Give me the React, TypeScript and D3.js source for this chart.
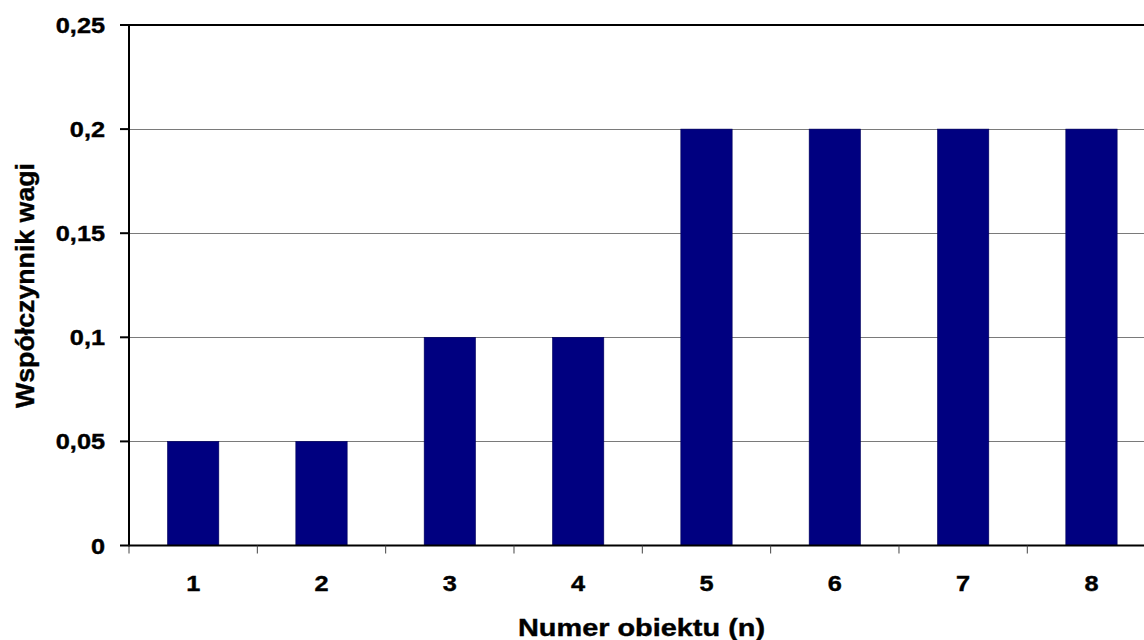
import React from "react";
import * as d3 from "d3";

const categories = ["1", "2", "3", "4", "5", "6", "7", "8"];
const values = [0.05, 0.05, 0.1, 0.1, 0.2, 0.2, 0.2, 0.2];
const yTicks = [0, 0.05, 0.1, 0.15, 0.2, 0.25];
const yTickLabels = ["0", "0,05", "0,1", "0,15", "0,2", "0,25"];
const xTitle = "Numer obiektu (n)";
const yTitle = "Współczynnik wagi";

const W = 1144;
const H = 640;
const left = 129;
const step = 128.33;
const right = left + step * categories.length;
const top = 25;
const bottom = 545.5;
const FONT = "'Liberation Sans', Arial, sans-serif";
const SX = 1.15;

export default function App() {
  const x = d3.scaleBand<string>().domain(categories).range([left, right]).paddingInner(0.6).paddingOuter(0.3);
  const y = d3.scaleLinear().domain([0, 0.25]).range([bottom, top]);
  const stepW = x.step();
  const txt = { fontFamily: FONT, fontWeight: "bold" as const, fill: "#000", stroke: "#000", strokeWidth: 0.4 };
  return (
    <svg width={W} height={H} style={{ position: "absolute", left: 0, top: 0, background: "#fff" }}>
      {yTicks.filter((t) => t > 0 && t < 0.25).map((t) => (
        <line key={"g" + t} x1={left} x2={W} y1={Math.round(y(t)) + 0.5} y2={Math.round(y(t)) + 0.5} stroke="#7a7a7a" strokeWidth={1} />
      ))}
      {values.map((v, i) => (
        <rect key={i} x={x(categories[i])} y={y(v)} width={x.bandwidth()} height={y(0) - y(v)} fill="#000080" stroke="#00005a" strokeWidth={0.6} />
      ))}
      <line x1={left} x2={W} y1={top} y2={top} stroke="#000" strokeWidth={2} />
      <line x1={left} x2={left} y1={top - 1} y2={bottom + 1} stroke="#000" strokeWidth={2} />
      <line x1={left} x2={W} y1={bottom} y2={bottom} stroke="#000" strokeWidth={2} />
      {yTicks.map((t, i) => (
        <g key={"yt" + t}>
          <line x1={120} x2={left} y1={y(t)} y2={y(t)} stroke="#000" strokeWidth={2} />
          <g transform={`translate(105,${y(t) + 8}) scale(${SX},1)`}>
            <text textAnchor="end" fontSize={22} {...txt}>{yTickLabels[i]}</text>
          </g>
        </g>
      ))}
      {d3.range(categories.length + 1).map((k) => (
        <line key={"xt" + k} x1={left + k * stepW} x2={left + k * stepW} y1={bottom} y2={bottom + 8} stroke="#444" strokeWidth={1} />
      ))}
      {categories.map((c) => (
        <g key={"xl" + c} transform={`translate(${(x(c) as number) + x.bandwidth() / 2},${591}) scale(${SX},1)`}>
          <text textAnchor="middle" fontSize={22} {...txt}>{c}</text>
        </g>
      ))}
      <text x={641.5} y={636} textAnchor="middle" fontSize={24} textLength={247} lengthAdjust="spacingAndGlyphs" {...txt}>{xTitle}</text>
      <text transform={`translate(34,285.5) rotate(-90)`} textAnchor="middle" fontSize={26} textLength={245} lengthAdjust="spacingAndGlyphs" {...txt}>{yTitle}</text>
    </svg>
  );
}
